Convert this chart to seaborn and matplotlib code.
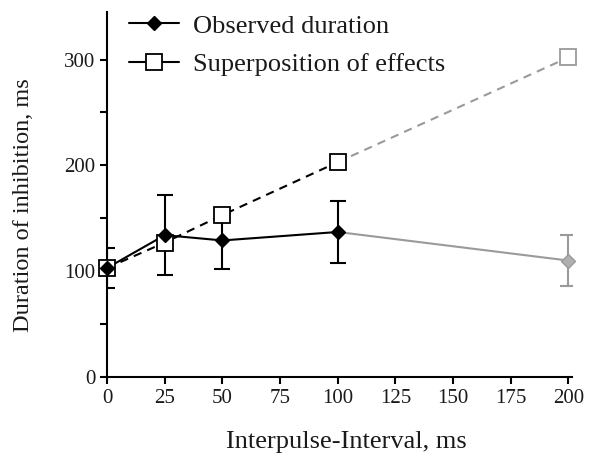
import matplotlib
matplotlib.use("Agg")
import matplotlib.pyplot as plt
import seaborn as sns
import pandas as pd
import numpy as np
from matplotlib.lines import Line2D
from matplotlib.ticker import MultipleLocator

intervals = [0, 25, 50, 100, 200]
observed = [103, 134, 129, 137, 110]
observed_err = [19, 38, 27, 29, 24]
superposition = [103, 127, 153, 203, 302]
x_ticks = [0, 25, 50, 75, 100, 125, 150, 175, 200]
y_ticks = [0, 100, 200, 300]

sns.set_theme(style="ticks")
plt.rcParams['font.family'] = ['Liberation Serif', 'DejaVu Serif']

df = pd.DataFrame({"x": intervals, "obs": observed, "err": observed_err, "sup": superposition})
near = df[df.x <= 100]
far = df[df.x >= 100]

fig = plt.figure(figsize=(5.95, 4.58), dpi=100)
ax = fig.add_axes([0.18, 0.177, 0.781, 0.797])

BLACK = "black"
GRAY = "#9a9a9a"
LW = 1.5

# lines
sns.lineplot(data=near, x="x", y="sup", ax=ax, color=BLACK, lw=LW, linestyle=(0, (4, 3)), zorder=1)
sns.lineplot(data=far, x="x", y="sup", ax=ax, color=GRAY, lw=LW, linestyle=(0, (4, 3)), zorder=1)
sns.lineplot(data=near, x="x", y="obs", ax=ax, color=BLACK, lw=LW, zorder=1)
sns.lineplot(data=far, x="x", y="obs", ax=ax, color=GRAY, lw=LW, zorder=1)

# error bars
for _, r in df.iterrows():
    c = BLACK if r.x <= 100 else GRAY
    ax.errorbar(r.x, r.obs, yerr=r.err, fmt="none", ecolor=c, elinewidth=LW,
                capsize=6, capthick=LW, zorder=2)

# squares
for _, r in df.iterrows():
    c = BLACK if r.x <= 100 else GRAY
    ax.plot(r.x, r.sup, marker="s", ms=11, mfc="white", mec=c, mew=1.3, zorder=3, clip_on=False)
# diamonds
for _, r in df.iterrows():
    c = BLACK if r.x <= 100 else GRAY
    fc = BLACK if r.x <= 100 else "#b0b0b0"
    ax.plot(r.x, r.obs, marker="D", ms=7.5, mfc=fc, mec=c, mew=1, zorder=4, clip_on=False)

ax.set_xlim(0, 201.5)
ax.set_ylim(0, 345)
ax.set_xticks(x_ticks)
ax.set_yticks(y_ticks)
ax.yaxis.set_minor_locator(MultipleLocator(50))
ax.tick_params(axis="both", which="both", direction="out", length=5, width=1.5, color="black",
               labelsize=15, labelcolor="#1a1a1a")
for s in ["top", "right"]:
    ax.spines[s].set_visible(False)
for s in ["left", "bottom"]:
    ax.spines[s].set_linewidth(1.5)
    ax.spines[s].set_color("black")

ax.set_xlabel("Interpulse-Interval, ms", fontsize=19, color="#1a1a1a")
ax.xaxis.set_label_coords(0.515, -0.148)
ax.set_ylabel("Duration of inhibition, ms", fontsize=17.5, color="#1a1a1a")
ax.yaxis.set_label_coords(-0.158, 0.47)

handles = [
    Line2D([], [], color=BLACK, lw=LW, marker="D", ms=7.5, mfc=BLACK, mec=BLACK),
    Line2D([], [], color=BLACK, lw=LW, marker="s", ms=11, mfc="white", mec=BLACK, mew=1.3),
]
ax.legend(handles, ["Observed duration", "Superposition of effects"], loc="upper left",
          bbox_to_anchor=(-0.005, 1.059), frameon=False, fontsize=19, handlelength=1.9,
          handletextpad=0.55, labelspacing=0.57, labelcolor="#1a1a1a")

fig.savefig("out.png", dpi=100)
